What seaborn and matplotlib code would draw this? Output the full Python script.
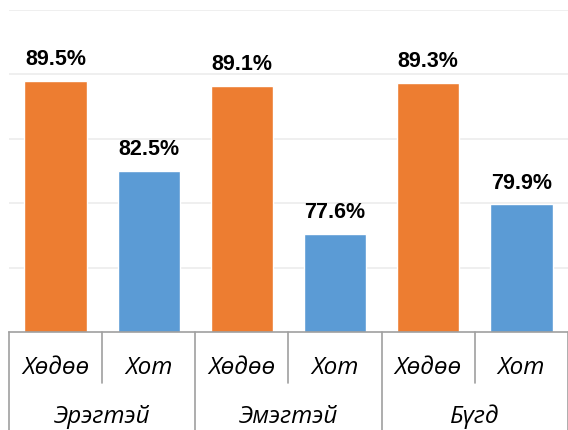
import matplotlib
matplotlib.use("Agg")
import matplotlib.pyplot as plt
import matplotlib.transforms as mtransforms
import seaborn as sns
import pandas as pd

groups = ["Эрэгтэй", "Эмэгтэй", "Бүгд"]
areas = ["Хөдөө", "Хот"]
values = [89.5, 82.5, 89.1, 77.6, 89.3, 79.9]
colors = {"Хөдөө": "#ED7D31", "Хот": "#5B9BD5"}

rows = []
i = 0
for g in groups:
    for a in areas:
        rows.append({"slot": f"{g}|{a}", "group": g, "area": a, "value": values[i]})
        i += 1
df = pd.DataFrame(rows)

sns.set_theme(style="white")
W, H = 568, 430
fig = plt.figure(figsize=(W / 100, H / 100), dpi=100)
ax_left, ax_right = 9 / W, 1.0
ax_bottom, ax_top = (H - 332) / H, (H - 10) / H
ax = fig.add_axes([ax_left, ax_bottom, ax_right - ax_left, ax_top - ax_bottom])

sns.barplot(data=df, x="slot", y="value", hue="area", palette=colors,
            dodge=False, width=0.67, ax=ax, legend=False, saturation=1)

ax.set_ylim(70, 95)
ax.set_xlim(-0.5, len(df) - 0.5)
ax.set_yticks([75, 80, 85, 90, 95])
ax.yaxis.grid(True, color="#ececec", linewidth=1.2)
ax.set_axisbelow(True)
ax.set_yticklabels([])
ax.tick_params(axis="y", length=0)
ax.set_xticks([])
ax.set_xlabel("")
ax.set_ylabel("")
for s in ["top", "right", "left"]:
    ax.spines[s].set_visible(False)
ax.spines["bottom"].set_color("#a0a0a0")
ax.spines["bottom"].set_linewidth(1.2)

# value labels
for idx, v in enumerate(df["value"]):
    ax.annotate(f"{v:.1f}%", xy=(idx, v), xytext=(0, 11.5), textcoords="offset points",
                ha="center", va="baseline", fontsize=15.5, fontweight="bold",
                family="Liberation Sans", color="black")

# multi-level category axis
trans = mtransforms.blended_transform_factory(ax.transData, ax.transAxes)
axh = 322.0
short_y = -(383 - 332) / axh
bottom_y = -(430 - 332) / axh
line_kw = dict(color="#a0a0a0", linewidth=1.2, transform=trans, clip_on=False)

for idx, a in enumerate(df["area"]):
    ax.text(idx, -(368 - 332) / axh, a, transform=trans, ha="center", va="center",
            fontsize=17.5, style="italic", family="Open Sans", color="black")
for gi, g in enumerate(groups):
    ax.text(gi * 2 + 0.5, -(417 - 332) / axh, g, transform=trans, ha="center", va="center",
            fontsize=17.5, style="italic", family="Open Sans", color="black")

for k in range(len(df) + 1):
    xpos = k - 0.5
    if k % 2 == 0:
        ax.plot([xpos, xpos], [0, bottom_y - 0.05], **line_kw)
    else:
        ax.plot([xpos, xpos], [0, short_y], **line_kw)

fig.savefig("out.png", dpi=100)
